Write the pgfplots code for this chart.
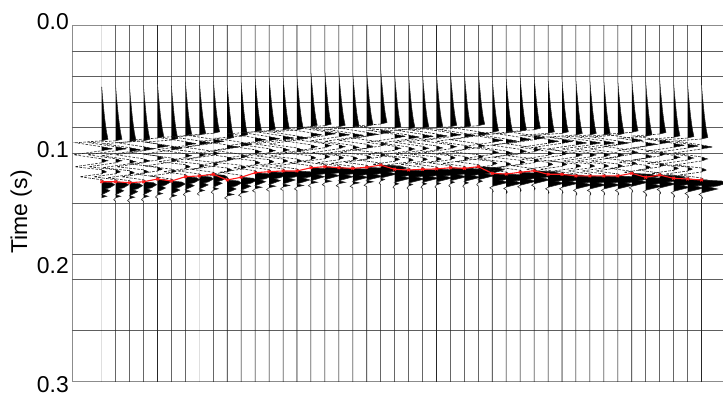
\documentclass[border=0pt]{standalone}
\usepackage{pgfplots}
\pgfplotsset{compat=1.18}
\usepackage{pgfplotstable}
\usepackage{fontspec}
\setmainfont{Liberation Sans}

\definecolor{gridgray}{HTML}{5E5E5E}
\definecolor{framegray}{HTML}{8C8C8C}
\definecolor{tracegray}{HTML}{262626}
\definecolor{zigzaggray}{HTML}{1E1E1E}
\definecolor{pickred}{HTML}{FF1A1A}

% Wavelet template, split in three windows around the picked arrival.
% d: time offset from the pick (1 unit = 0.3/356 s)
% a: precursor and coda amplitude, b: first-break lobe, c: trailing lobes
\pgfplotstableread{
d      a     b    c
-260   0     0    0
-95    0     0    0
-85    0.8   0    0
-75    1.8   0    0
-65    2.8   0    0
-57    3.8   0    0
-50    4.8   0    0
-45    5.8   0    0
-42.5  6.3   0    0
-41    0     0    0
}\wavepre
\pgfplotstableread{
d      a     b    c
-41    0     0    0
-39   -26    0    0
-35    0     0    0
-33    11    0    0
-31    0     0    0
-27   -28    0    0
-23    0     0    0
-21    6     0    0
-19    0     0    0
-15   -27    0    0
-12    0     0    0
-10    5     0    0
-8     0     0    0
-5    -22    0    0
-2     0     0    0
-1     2     0    0
0      0     0    0
}\wavezig
\pgfplotstableread{
d      a     b    c
0      0     0    0
1      0     10   0
3      0     13   0
6      0     8    0
7      0     4    0
9      0     8    0
13     0     0    0
14.5   0     0    5
16     0     0    0
18     0     0   -2
19.5   0     0    0
260    0     0    0
}\wavepost
% whole trace, for the filled positive half
\pgfplotstablevertcat{\wavefull}{\wavepre}
\pgfplotstablevertcat{\wavefull}{\wavezig}
\pgfplotstablevertcat{\wavefull}{\wavepost}

% Traces: k = trace number, p = picked first-break time (s),
% g = first-lobe gain, h = trailing-lobe gain, top/bot = live part of the trace
\pgfplotstableread{
k   p       g     h     top     bot
1   0.1321  1.0   1.0   0.0253  0.147
2   0.1321  1.0   1.0  -1       1
3   0.1329  1.0   1.0  -1       1
4   0.1321  1.0   1.0  -1       1
5   0.1298  1.0   1.0  -1       1
6   0.1315  1.05  1.0  -1       1
7   0.1278  1.1   1.0  -1       1
8   0.1272  1.1   1.0  -1       0.147
9   0.1258  1.1   1.0  -1       1
10  0.1306  1.1   1.3  -1       1
11  0.1283  1.2   1.3  -1       1
12  0.1245  1.3   1.3  -1       1
13  0.1236  1.4   1.3  -1       1
14  0.1230  1.5   1.3  -1       1
15  0.1230  1.6   1.3  -1       1
16  0.1203  1.7   1.3  -1       1
17  0.1194  1.8   1.3  -1       1
18  0.1203  1.8   1.3  -1       1
19  0.1208  1.9   1.3  -1       1
20  0.1199  2.0   1.3  -1       1
21  0.1180  2.0   0.8  -1       1
22  0.1216  2.0   0.8  -1       1
23  0.1222  2.0   0.8  -1       1
24  0.1216  2.0   0.8  -1       1
25  0.1213  2.0   0.8  -1       1
26  0.1203  2.0   0.8  -1       1
27  0.1208  2.0   0.8  -1       1
28  0.1194  2.0   0.8  -1       1
29  0.1250  2.0  -0.5  -1       1
30  0.1256  2.0  -0.5  -1       1
31  0.1241  2.0  -0.5  -1       1
32  0.1228  2.0  -0.5  -1       1
33  0.1258  2.0  -0.5  -1       1
34  0.1258  2.0  -0.5  -1       1
35  0.1272  2.0  -0.5  -1       1
36  0.1272  2.0  -0.5  -1       1
37  0.1272  2.0  -0.5  -1       1
38  0.1272  2.0  -0.5  -1       1
39  0.1250  2.0  -0.5  -1       1
40  0.1283  2.0  -0.5  -1       1
41  0.1264  2.0  -0.5  -1       1
42  0.1292  2.0  -0.5  -1       1
43  0.1298  2.0  -0.5  -1       1
44  0.1306  2.0  -0.5  -1       1
}\traces

\begin{document}
\begin{tikzpicture}
\begin{axis}[
  scale only axis,
  width=651bp, height=356bp,
  xmin=-1.129, xmax=45.541,
  ymin=0, ymax=0.3, y dir=reverse,
  xtick=\empty,
  ytick={0,0.1053,0.2031,0.3},
  yticklabels={\raisebox{-4.2bp}[0pt][0pt]{0.0},0.1,0.2,\raisebox{-11.7bp}[0pt][0pt]{0.3}},
  major tick length=0pt,
  yticklabel style={font=\fontsize{23}{27}\selectfont, inner sep=0pt, xshift=-3bp},
  extra y ticks={0.02216,0.04365,0.06514,0.08654,0.10787,0.15,0.19298,0.21405,0.25702},
  extra y tick labels={},
  extra y tick style={grid=major, major grid style={gridgray, line width=0.8bp}},
  axis line style={framegray, line width=0.8bp},
  ylabel={Time (s)},
  ylabel style={font=\fontsize{23}{27}\selectfont, at={(axis description cs:-0.078,0.475)}, anchor=center},
]
\pgfplotsinvokeforeach{0,...,43}{%
  \pgfplotstablegetelem{#1}{k}\of\traces \edef\trK{\pgfplotsretval}%
  \pgfplotstablegetelem{#1}{p}\of\traces \edef\trP{\pgfplotsretval}%
  \pgfplotstablegetelem{#1}{g}\of\traces \edef\trG{\pgfplotsretval}%
  \pgfplotstablegetelem{#1}{h}\of\traces \edef\trH{\pgfplotsretval}%
  \pgfplotstablegetelem{#1}{top}\of\traces \edef\trT{\pgfplotsretval}%
  \pgfplotstablegetelem{#1}{bot}\of\traces \edef\trB{\pgfplotsretval}%
  \edef\doplots{%
    \noexpand\addplot[draw=none, fill=black, forget plot]
      table[x expr={\trK+max(\noexpand\thisrow{a}+(\trG)*\noexpand\thisrow{b}+(\trH)*\noexpand\thisrow{c},0)/13.95},
            y expr={\trP+\noexpand\thisrow{d}*0.000842697}] {\noexpand\wavefull};
    \noexpand\addplot[tracegray, line width=0.55bp, restrict y to domain=\trT:\trB, forget plot]
      table[x expr={\trK+(\noexpand\thisrow{a}+(\trG)*\noexpand\thisrow{b}+(\trH)*\noexpand\thisrow{c})/13.95},
            y expr={\trP+\noexpand\thisrow{d}*0.000842697}] {\noexpand\wavepre};
    \noexpand\addplot[zigzaggray, line width=0.6bp, dash pattern=on 2.6bp off 1.4bp, forget plot]
      table[x expr={\trK+(\noexpand\thisrow{a}+(\trG)*\noexpand\thisrow{b}+(\trH)*\noexpand\thisrow{c})/13.95},
            y expr={\trP+\noexpand\thisrow{d}*0.000842697}] {\noexpand\wavezig};
    \noexpand\addplot[tracegray, line width=0.55bp, restrict y to domain=\trT:\trB, forget plot]
      table[x expr={\trK+(\noexpand\thisrow{a}+(\trG)*\noexpand\thisrow{b}+(\trH)*\noexpand\thisrow{c})/13.95},
            y expr={\trP+\noexpand\thisrow{d}*0.000842697}] {\noexpand\wavepost};
  }%
  \doplots
}
% picked first breaks
\addplot[pickred, line width=1.1bp, mark=x, mark size=1.8bp] table[x=k, y=p] {\traces};
\end{axis}
\pgfresetboundingbox
\path ([xshift=-72bp,yshift=-15bp]current axis.south west) rectangle ([yshift=25bp]current axis.north east);
\end{tikzpicture}
\end{document}
